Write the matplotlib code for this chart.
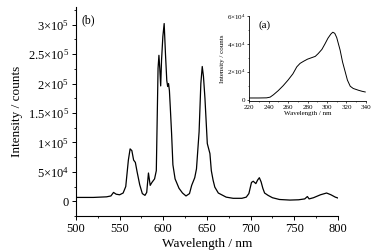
import numpy as np
from matplotlib import pyplot as plt
import matplotlib
from matplotlib.ticker import MultipleLocator, FuncFormatter

# emission spectrum (b)
em_wl = [500, 520, 535, 540, 543, 546, 550, 554, 557, 560, 562, 564, 566, 568, 570,
         573, 576, 579, 581, 583, 585, 587, 590, 592, 594, 595, 596, 597, 598, 599.5,
         601, 602.5, 604, 605, 606, 607, 608, 609.5, 611, 613.5, 618, 622, 626, 630,
         632.5, 636, 638, 641, 643, 644.6, 646, 647.7, 650.4, 653.4, 655, 657, 659,
         663, 672, 680, 690, 695, 698, 701, 703, 706, 708, 710, 712, 714, 716, 720,
         725, 733, 745, 755, 762, 765, 767, 772, 780, 787, 792, 797, 800]
em_int = [6.5, 6.5, 7.5, 9, 15, 12, 11, 14, 25, 70, 89, 86, 70, 66, 50,
          28, 13, 10, 15, 48, 27, 32, 38, 52, 226, 248, 225, 196, 240, 280,
          302, 250, 205, 195, 200, 188, 160, 115, 62, 38, 22, 14, 9, 13,
          27, 40, 55, 118, 200, 229, 212, 175, 98, 81, 52, 36, 24,
          14, 7, 5, 5, 7, 13, 32, 34, 30, 36, 40, 33, 22, 14, 10,
          6, 3, 2, 2.5, 4, 8, 4, 6, 11, 14, 11, 7, 5.5]

# excitation spectrum (a)
ex_wl = [220, 230, 238, 241.6, 245, 250, 255, 260, 265, 269, 272.4, 276, 280, 284,
         288, 291, 294.8, 298, 301, 304, 306, 308, 310, 313.5, 316, 318.7, 321,
         323.9, 327, 332.5, 336, 339.3]
ex_int = [1.2, 1.2, 1.3, 1.8, 3.5, 6.5, 10, 14, 18.5, 23.5, 26, 27.5, 29, 30,
          31, 33, 36, 40, 44, 47, 48.3, 47.5, 44.5, 35.5, 27, 20, 14,
          9.6, 8, 6.7, 6, 5.5]

plt.rcParams['font.family'] = ['Liberation Serif', 'DejaVu Serif']
plt.rcParams['mathtext.fontset'] = 'custom'
plt.rcParams['mathtext.rm'] = 'Liberation Serif'
plt.rcParams['mathtext.it'] = 'Liberation Serif:italic'


def sci_fmt(value, tick_number):
    if abs(value) < 1:
        return "0"
    exp = int(np.floor(np.log10(abs(value))))
    mant = value / 10 ** exp
    if abs(mant - round(mant)) < 1e-6:
        m = "{:.0f}".format(mant)
    else:
        m = "{:.1f}".format(mant)
    return m + "\u00d710$^{" + str(exp) + "}$"


fig = plt.figure(figsize=(3.78, 2.52), dpi=100, facecolor='w')
ax = fig.add_axes([0.201, 0.143, 0.693, 0.829])
ax.plot(em_wl, np.array(em_int) * 1e3, color='black', linewidth=0.9)
ax.set_xlim(500, 800)
ax.set_ylim(-2.5e4, 3.3e5)
ax.spines['top'].set_visible(False)
ax.spines['right'].set_visible(False)
ax.xaxis.set_major_locator(MultipleLocator(50))
ax.xaxis.set_minor_locator(MultipleLocator(25))
ax.yaxis.set_major_locator(MultipleLocator(5e4))
ax.yaxis.set_minor_locator(MultipleLocator(2.5e4))
ax.yaxis.set_major_formatter(FuncFormatter(sci_fmt))
ax.tick_params(which='major', length=3, width=0.7, labelsize=9, pad=2)
ax.tick_params(which='minor', length=1.5, width=0.6)
ax.set_xlabel("Wavelength / nm", fontsize=9.5, labelpad=2)
ax.set_ylabel("Intensity / counts", fontsize=9.5, labelpad=3)
ax.text(0.02, 0.965, "(b)", transform=ax.transAxes, fontsize=8.5, va='top')

ins = fig.add_axes([0.659, 0.599, 0.309, 0.338])
ins.plot(ex_wl, np.array(ex_int) * 1e3, color='black', linewidth=0.7)
ins.set_xlim(220, 340)
ins.set_ylim(-1000, 6e4)
ins.spines['top'].set_visible(False)
ins.spines['right'].set_visible(False)
ins.xaxis.set_major_locator(MultipleLocator(20))
ins.xaxis.set_minor_locator(MultipleLocator(10))
ins.yaxis.set_major_locator(MultipleLocator(2e4))
ins.yaxis.set_minor_locator(MultipleLocator(1e4))
ins.yaxis.set_major_formatter(FuncFormatter(sci_fmt))
ins.tick_params(which='major', length=1.5, width=0.5, labelsize=5, pad=1)
ins.tick_params(which='minor', length=1, width=0.4)
for s in ins.spines.values():
    s.set_linewidth(0.6)
ins.set_xlabel("Wavelength / nm", fontsize=5, labelpad=1)
ins.set_ylabel("Intensity / counts", fontsize=5, labelpad=1.5)
ins.text(0.08, 0.95, "(a)", transform=ins.transAxes, fontsize=8, va='top')

plt.savefig("out.png", dpi=100)
plt.close()
